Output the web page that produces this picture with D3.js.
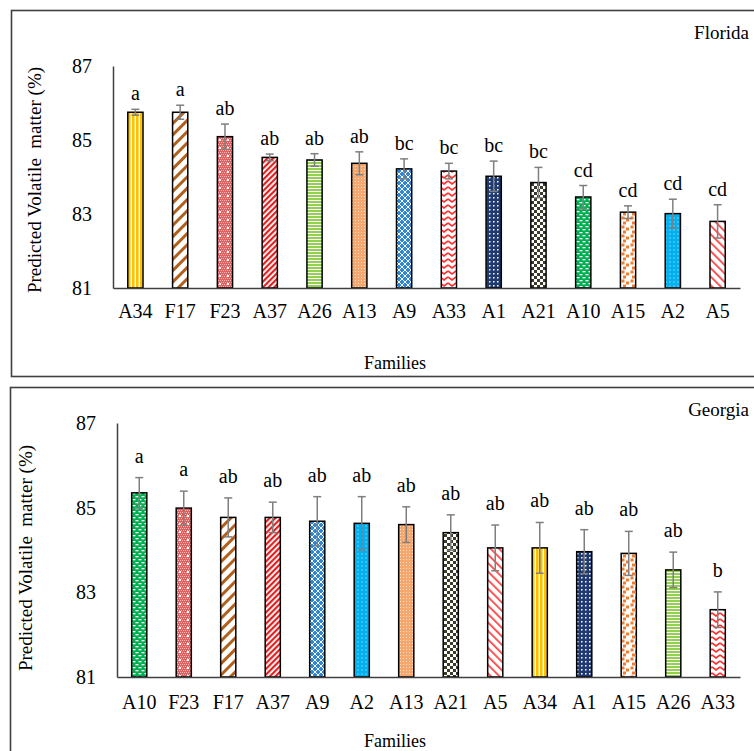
<!DOCTYPE html>
<html>
<head>
<meta charset="utf-8">
<script src="https://cdn.jsdelivr.net/npm/d3@7"></script>
<style>
  body { margin: 0; background: #fff; }
</style>
</head>
<body>
<svg id="chart" width="754" height="751"></svg>
<script>
// Florida panel
const flFamilies = ['A34', 'F17', 'F23', 'A37', 'A26', 'A13', 'A9', 'A33', 'A1', 'A21', 'A10', 'A15', 'A2', 'A5']
const flMeans = [85.75, 85.75, 85.09, 84.53, 84.46, 84.37, 84.22, 84.16, 84.02, 83.85, 83.46, 83.05, 83.01, 82.80]
const flErrors = [0.08, 0.19, 0.34, 0.09, 0.17, 0.31, 0.27, 0.21, 0.41, 0.41, 0.31, 0.17, 0.39, 0.45]
const flLetters = ['a', 'a', 'ab', 'ab', 'ab', 'ab', 'bc', 'bc', 'bc', 'bc', 'cd', 'cd', 'cd', 'cd']

// Georgia panel
const gaFamilies = ['A10', 'F23', 'F17', 'A37', 'A9', 'A2', 'A13', 'A21', 'A5', 'A34', 'A1', 'A15', 'A26', 'A33']
const gaMeans = [85.35, 84.99, 84.77, 84.77, 84.68, 84.63, 84.60, 84.41, 84.05, 84.05, 83.96, 83.92, 83.53, 82.59]
const gaErrors = [0.36, 0.40, 0.46, 0.36, 0.58, 0.63, 0.42, 0.42, 0.54, 0.60, 0.52, 0.52, 0.42, 0.42]
const gaLetters = ['a', 'a', 'ab', 'ab', 'ab', 'ab', 'ab', 'ab', 'ab', 'ab', 'ab', 'ab', 'ab', 'b']

const yTicks = [81, 83, 85, 87]

const serif = '"Liberation Serif", "Times New Roman", serif'
const svg = d3.select('#chart')
const defs = svg.append('defs')

// one fill pattern per family, shared by both panels
function pattern(id, w, h, draw, rotate) {
  const p = defs.append('pattern')
    .attr('id', `pat-${id}`)
    .attr('patternUnits', 'userSpaceOnUse')
    .attr('width', w).attr('height', h)
  if (rotate) p.attr('patternTransform', `rotate(${rotate})`)
  draw(p)
}
const rect = (p, x, y, w, h, c) => p.append('rect').attr('x', x).attr('y', y).attr('width', w).attr('height', h).attr('fill', c)

pattern('A34', 4, 4, p => { rect(p, 0, 0, 4, 4, '#fff'); rect(p, 0, 0, 2.6, 4, '#FFC000') })
pattern('F17', 8, 8, p => { rect(p, 0, 0, 8, 8, '#fff'); rect(p, 0, 0, 3, 8, '#B0601A') }, 45)
pattern('F23', 8, 8, p => {
  rect(p, 0, 0, 8, 8, '#E06060')
  for (let i = 0; i < 8; i += 2) for (let j = 0; j < 8; j += 2) rect(p, i + (j % 4 ? 1 : 0), j, 1, 1, '#F4B8B8')
  rect(p, 3, 3, 2, 2, '#fff')
})
pattern('A37', 4, 4, p => { rect(p, 0, 0, 4, 4, '#fff'); rect(p, 0, 0, 2.2, 4, '#E02020') }, 45)
pattern('A26', 4, 3, p => { rect(p, 0, 0, 4, 3, '#fff'); rect(p, 0, 0, 4, 2, '#92D050') })
pattern('A13', 3, 3, p => { rect(p, 0, 0, 3, 3, '#F4A870'); rect(p, 1, 1, 1, 1, '#FCE0C8') })
pattern('A9', 6, 6, p => {
  rect(p, 0, 0, 6, 6, '#2E86D6')
  p.append('path').attr('d', 'M3,0 L6,3 L3,6 L0,3 Z').attr('fill', 'none').attr('stroke', '#fff').attr('stroke-width', 1)
})
pattern('A33', 8, 6, p => {
  rect(p, 0, 0, 8, 6, '#fff')
  p.append('path').attr('d', 'M0,1 L4,4 L8,1').attr('fill', 'none').attr('stroke', '#FF3030').attr('stroke-width', 1.6)
})
pattern('A1', 4, 4, p => { rect(p, 0, 0, 4, 4, '#1F3A70'); rect(p, 1, 1, 1.5, 1.5, '#fff') })
pattern('A21', 6, 6, p => {
  rect(p, 0, 0, 6, 6, '#fff'); rect(p, 0, 0, 3, 3, '#3C3A2A'); rect(p, 3, 3, 3, 3, '#3C3A2A')
})
pattern('A10', 6, 6, p => {
  rect(p, 0, 0, 6, 6, '#00B050'); rect(p, 0.5, 1, 3, 1.3, '#fff'); rect(p, 3.5, 4, 3, 1.3, '#fff'); rect(p, -2.5, 4, 3, 1.3, '#fff')
})
pattern('A15', 9, 9, p => {
  rect(p, 0, 0, 9, 9, '#fff')
  rect(p, 0.5, 0.5, 3, 3, '#ED7D31'); rect(p, 5, 2.5, 3, 3, '#ED7D31'); rect(p, 2, 5.5, 3, 3, '#ED7D31')
})
pattern('A2', 4, 4, p => { rect(p, 0, 0, 4, 4, '#00B0F0'); rect(p, 1.5, 1.5, 1, 1, '#E0F6FF') })
pattern('A5', 6, 6, p => { rect(p, 0, 0, 6, 6, '#fff'); rect(p, 0, 0, 1.8, 6, '#FF4545') }, -45)

function drawPanel(cfg) {
  const { families, means, errors, letters, box, xRange, yRange, name, labelGap, xPad, titleX, titleY, famY } = cfg
  const g = svg.append('g')

  g.append('rect')
    .attr('x', box[0]).attr('y', box[1]).attr('width', box[2]).attr('height', box[3])
    .attr('fill', 'none').attr('stroke', '#404040').attr('stroke-width', 1.6)

  const x = d3.scaleBand().domain(families).range(xRange).paddingInner(0.66).paddingOuter(0.33)
  const y = d3.scaleLinear().domain([81, 87]).range(yRange)

  const yAxis = g.append('g')
    .attr('transform', `translate(${xRange[0]},0)`)
    .call(d3.axisLeft(y).tickValues(yTicks).tickFormat(d3.format('d')).tickSize(0).tickPadding(21).tickSizeOuter(0))
  yAxis.select('.domain').attr('stroke', '#404040').attr('stroke-width', 1.5)
  yAxis.selectAll('text').style('font-size', '20px').style('font-family', serif).attr('fill', '#000')

  const rows = families.map((f, i) => ({ f, m: means[i], e: errors[i], l: letters[i] }))

  g.selectAll('.bar').data(rows).enter().append('rect')
    .attr('x', d => x(d.f))
    .attr('y', d => y(d.m))
    .attr('width', x.bandwidth())
    .attr('height', d => y(81) - y(d.m))
    .attr('fill', d => `url(#pat-${d.f})`)
    .attr('stroke', '#000').attr('stroke-width', 1.5)

  const xAxis = g.append('g')
    .attr('transform', `translate(0,${yRange[0]})`)
    .call(d3.axisBottom(x).tickSize(0).tickPadding(xPad).tickSizeOuter(0))
  xAxis.select('.domain').attr('stroke', '#404040').attr('stroke-width', 1.5)
  xAxis.selectAll('text').style('font-size', '20px').style('font-family', serif).attr('fill', '#000')

  const cx = d => x(d.f) + x.bandwidth() / 2
  const err = g.selectAll('.err').data(rows).enter().append('g')
    .attr('stroke', '#7F7F7F').attr('stroke-width', 1.5)
  err.append('line').attr('x1', cx).attr('x2', cx).attr('y1', d => y(d.m - d.e)).attr('y2', d => y(d.m + d.e))
  err.append('line').attr('x1', d => cx(d) - 4).attr('x2', d => cx(d) + 4).attr('y1', d => y(d.m + d.e)).attr('y2', d => y(d.m + d.e))
  err.append('line').attr('x1', d => cx(d) - 4).attr('x2', d => cx(d) + 4).attr('y1', d => y(d.m - d.e)).attr('y2', d => y(d.m - d.e))

  g.selectAll('.letter').data(rows).enter().append('text')
    .attr('x', cx)
    .attr('y', d => y(d.m + d.e) - labelGap)
    .attr('text-anchor', 'middle')
    .style('font-family', serif)
    .style('font-size', '20px')
    .text(d => d.l)

  g.append('text')
    .attr('transform', `translate(${titleX},${titleY}) rotate(-90)`)
    .attr('text-anchor', 'middle')
    .style('font-family', serif)
    .style('font-size', '19px')
    .style('white-space', 'pre')
    .text('Predicted Volatile  matter (%)')

  g.append('text')
    .attr('x', 395).attr('y', famY)
    .attr('text-anchor', 'middle')
    .style('font-family', serif)
    .style('font-size', '18px')
    .text('Families')

  g.append('text')
    .attr('x', 749).attr('y', box[1] + 28)
    .attr('text-anchor', 'end')
    .style('font-family', serif)
    .style('font-size', '19px')
    .text(name)
}

drawPanel({
  families: flFamilies, means: flMeans, errors: flErrors, letters: flLetters,
  box: [11.5, 10.5, 760, 366], xRange: [113, 740], yRange: [288, 66],
  name: 'Florida', labelGap: 9, xPad: 16, titleX: 41, titleY: 180, famY: 369
})

drawPanel({
  families: gaFamilies, means: gaMeans, errors: gaErrors, letters: gaLetters,
  box: [10.5, 387.5, 760, 380], xRange: [117, 740], yRange: [677, 423],
  name: 'Georgia', labelGap: 15, xPad: 18, titleX: 32, titleY: 558, famY: 747
})
</script>
</body>
</html>
